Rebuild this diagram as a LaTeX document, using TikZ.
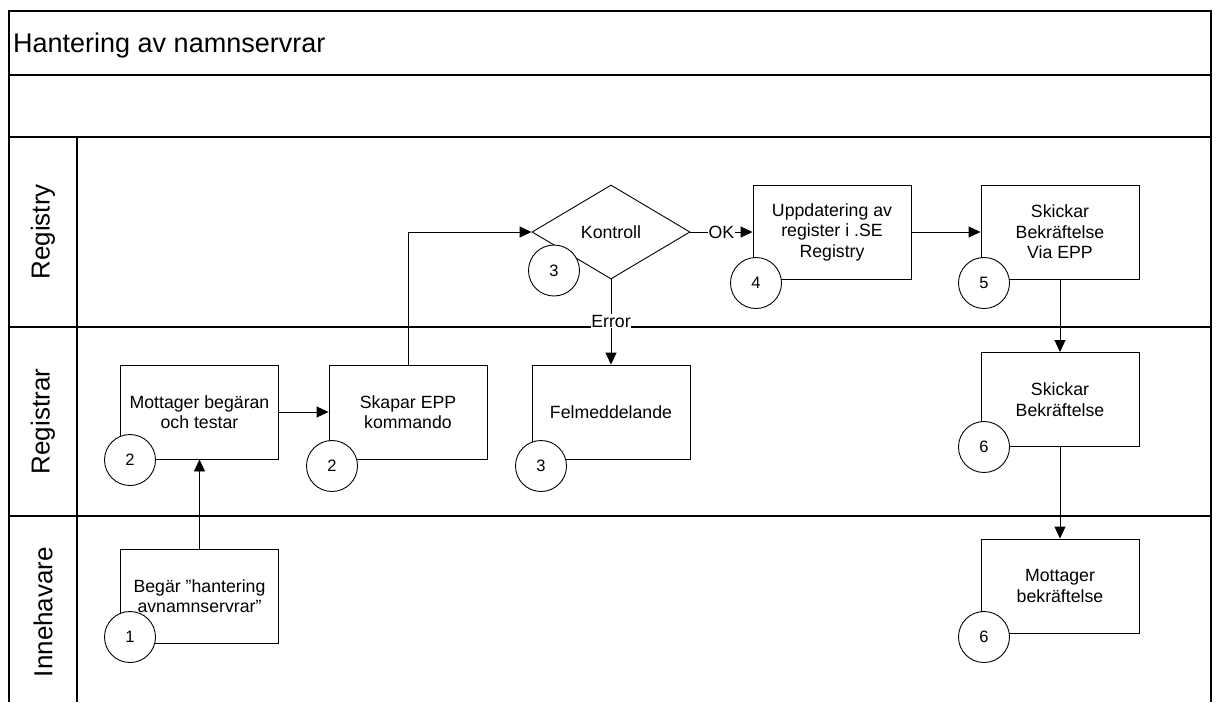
\documentclass[tikz,border=0pt]{standalone}
\usepackage{fontspec}
\setmainfont{Liberation Sans}
\usetikzlibrary{shapes.geometric,arrows.meta}

\begin{document}
\begin{tikzpicture}[x=1pt,y=-1pt,
    frame/.style={line width=1.2pt},
    task/.style={draw,line width=0.9pt,minimum width=158pt,minimum height=94pt,inner sep=0pt,align=center,font=\fontsize{17.7}{20.5}\selectfont},
    check/.style={draw,diamond,aspect=1.68,minimum width=158pt,minimum height=94pt,inner sep=0pt,line width=0.9pt,font=\fontsize{17.7}{20.5}\selectfont},
    num/.style={draw,circle,fill=white,minimum size=51pt,inner sep=0pt,line width=0.9pt,font=\fontsize{16.5}{16.5}\selectfont},
    lane/.style={rotate=90,font=\fontsize{26}{26}\selectfont},
    flow/.style={-{Triangle[length=12pt,width=11pt]},line width=0.9pt},
    lbl/.style={fill=white,inner sep=0.5pt,font=\fontsize{17.7}{20.5}\selectfont}]
    \useasboundingbox (0,0) rectangle (1216,702);

    % Frame and lanes
    \draw[frame] (9,702) -- (9,11) -- (1211,11) -- (1211,702);
    \foreach \y in {75,137,327,516}
        \draw[frame] (9,\y) -- (1211,\y);
    \draw[frame] (77,137) -- (77,702);
    \node[anchor=base west,inner sep=0pt,font=\fontsize{27}{27}\selectfont] (title) at (13,52) {Hantering av namnservrar};
    \node[lane] (registry) at (43,232) {Registry};
    \node[lane] (registrar) at (43,421.5) {Registrar};
    \node[lane] (innehavare) at (43,612) {Innehavare};

    % Registry
    \node[check] (kontroll) at (611,232) {Kontroll};
    \node[task] (uppdatering) at (832,232) {Uppdatering av\\register i .SE\\Registry};
    \node[task] (skickarepp) at (1060,232) {Skickar\\Bekräftelse\\Via EPP};

    % Registrar
    \node[task] (mottager) at (199.5,412) {Mottager begäran\\och testar};
    \node[task] (skapar) at (408,412) {Skapar EPP\\kommando};
    \node[task] (felmeddelande) at (611,412) {Felmeddelande};
    \node[task] (skickar) at (1060,399.5) {Skickar\\Bekräftelse};

    % Innehavare
    \node[task] (begar) at (199.5,596) {Begär ”hantering\\avnamnservrar”};
    \node[task] (mottagerbekr) at (1060,586) {Mottager\\bekräftelse};

    % Step numbers
    \foreach \n/\x/\y/\t in {n1/130/637/1, n2a/130/460/2, n2b/332/466/2, n3a/554/270.5/3, n3b/541/466/3,
                             n4/756/283/4, n5/984/283/5, n6a/984/447/6, n6b/984/637/6}
        \node[num] (\n) at (\x,\y) {\t};

    % Flow
    \draw[flow] (begar) -- (mottager);
    \draw[flow] (mottager) -- (skapar);
    \draw[flow] (skapar.north) |- (kontroll.west);
    \draw[flow] (kontroll) -- node[lbl] (ok) {OK} (uppdatering);
    \draw[flow] (kontroll) -- node[lbl,pos=0.49] (error) {Error} (felmeddelande);
    \draw[flow] (uppdatering) -- (skickarepp);
    \draw[flow] (skickarepp) -- (skickar);
    \draw[flow] (skickar) -- (mottagerbekr);
\end{tikzpicture}
\end{document}
